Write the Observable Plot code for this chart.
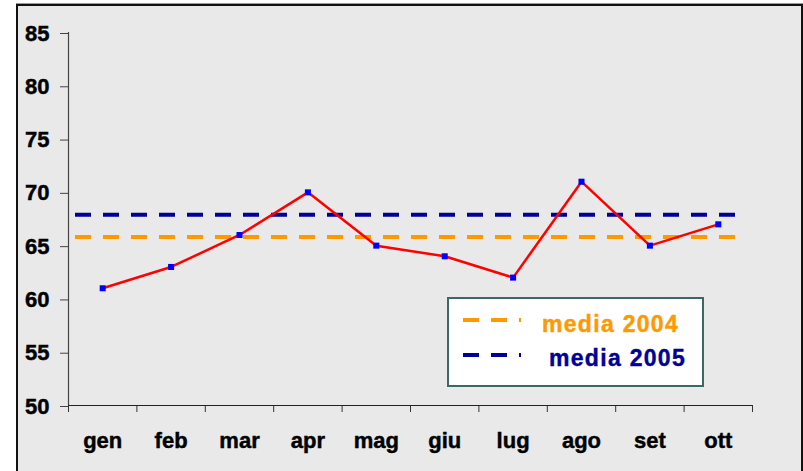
<!DOCTYPE html>
<html>
<head>
<meta charset="utf-8">
<script src="https://cdn.jsdelivr.net/npm/d3@7"></script>
<script src="https://cdn.jsdelivr.net/npm/@observablehq/plot@0.6"></script>
<style>
  html, body { margin: 0; padding: 0; background: #ffffff; }
  #page { position: relative; width: 803px; height: 471px; overflow: hidden; font-family: "Liberation Sans", Arial, sans-serif; }
  #frame { position: absolute; left: 16px; top: 4px; width: 783px; height: 480px;
           background: #e9e9e9; border-top: 2px solid #111; border-left: 2px solid #111; border-right: 2px solid #111;
           box-shadow: 0 -1px 0 #999; }
  #chart { position: absolute; left: 0; top: 0; }
  #chart svg text { paint-order: stroke; stroke: #000; stroke-width: 0.45px; }
  #legend { position: absolute; left: 447px; top: 297px; width: 253px; height: 86px;
            background: #ffffff; border: 2px solid #3d6868; }
  .lab { position: absolute; font-weight: bold; font-size: 23px; line-height: 1.15; letter-spacing: 1.3px; white-space: nowrap; }
</style>
</head>
<body>
<div id="page">
  <div id="frame"></div>
  <div id="chart"></div>
  <div id="legend"></div>
</div>
<script>
const months = ["gen", "feb", "mar", "apr", "mag", "giu", "lug", "ago", "set", "ott"];
const values = [61, 63, 66, 70, 65, 64, 62, 71, 65, 67];
const media2004 = 65.8;
const media2005 = 67.9;
const yTicks = [50, 55, 60, 65, 70, 75, 80, 85];
const legendLabels = ["media 2004", "media 2005"];
const colors = { line: "#ff0000", marker: "#0000ff", m2004: "#ff9900", m2005: "#000099" };

const data = months.map((m, i) => ({ i, m, v: values[i] }));
const xDomain = [-0.5, months.length - 0.5];
const edges = d3.range(months.length + 1).map(i => i - 0.5);
const centers = d3.range(months.length);

const chart = Plot.plot({
  width: 803,
  height: 471,
  marginLeft: 68,
  marginRight: 51,
  marginTop: 32,
  marginBottom: 66,
  style: { background: "transparent", fontFamily: "'Liberation Sans', Arial, sans-serif", fontSize: "22px", fontWeight: "bold", color: "#000" },
  x: { type: "linear", domain: xDomain, label: null },
  y: { domain: [yTicks[0], yTicks[yTicks.length - 1]], label: null },
  marks: [
    Plot.axisY(yTicks, { tickSize: 8, tickPadding: 11, label: null, stroke: "#444", fill: "#000", dy: 1 }),
    Plot.axisX(edges, { tickSize: 7, tickFormat: () => "", label: null, stroke: "#333" }),
    Plot.axisX(centers, { tickSize: 0, tickPadding: 27, tickFormat: i => months[i], label: null, fill: "#000" }),
    Plot.ruleY([yTicks[0]], { stroke: "#222", strokeWidth: 1.2 }),
    Plot.ruleX([xDomain[0]], { stroke: "#444", strokeWidth: 1.2 }),
    Plot.ruleY([media2004], { stroke: colors.m2004, strokeWidth: 4, strokeDasharray: "16,12", insetLeft: 7, insetRight: 15 }),
    Plot.ruleY([media2005], { stroke: colors.m2005, strokeWidth: 4, strokeDasharray: "16,12", insetLeft: 7, insetRight: 15 }),
    Plot.line(data, { x: "i", y: "v", stroke: colors.line, strokeWidth: 2.5 }),
    Plot.dot(data, { x: "i", y: "v", symbol: "square", r: 3.4, fill: colors.marker, stroke: "none" })
  ]
});
document.getElementById("chart").appendChild(chart);

// Legend (overlay box inside the plot area, as in the reference)
const legend = document.getElementById("legend");
const legendItems = [
  { label: legendLabels[0], color: colors.m2004, top: 21, textLeft: 93, textTop: 11.5 },
  { label: legendLabels[1], color: colors.m2005, top: 56, textLeft: 100, textTop: 46 }
];
legendItems.forEach(it => {
  const svg = d3.create("svg").attr("width", 60).attr("height", 6)
    .style("position", "absolute").style("left", "14px").style("top", (it.top - 3) + "px");
  svg.append("line").attr("x1", 0).attr("x2", 58).attr("y1", 3).attr("y2", 3)
    .attr("stroke", it.color).attr("stroke-width", 4).attr("stroke-dasharray", "16,12");
  legend.appendChild(svg.node());
  const t = document.createElement("div");
  t.className = "lab";
  t.textContent = it.label;
  t.style.color = it.color;
  t.style.webkitTextStroke = "0.4px " + it.color;
  t.style.left = it.textLeft + "px";
  t.style.top = it.textTop + "px";
  legend.appendChild(t);
});
</script>
</body>
</html>
